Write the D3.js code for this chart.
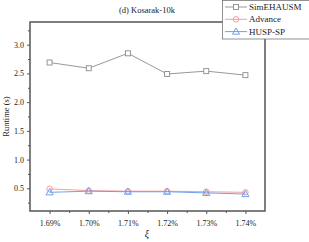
<!DOCTYPE html>
<meta charset="utf-8">
<style>
    body { margin: 0; background: #fff; }
    text { font-family: "Liberation Serif", "Times New Roman", serif; fill: #222; }
    .axis path, .axis line { stroke: #555; }
</style>
<body>
<script src="https://d3js.org/d3.v7.min.js"></script>
<script>
    var xi = [1.69, 1.70, 1.71, 1.72, 1.73, 1.74];
    var xLabels = ["1.69%", "1.70%", "1.71%", "1.72%", "1.73%", "1.74%"];
    var simehausm = [2.69, 2.59, 2.85, 2.49, 2.54, 2.47];
    var advance = [0.49, 0.46, 0.45, 0.45, 0.44, 0.43];
    var huspsp = [0.43, 0.45, 0.44, 0.44, 0.42, 0.40];
    var yTicks = [0.5, 1.0, 1.5, 2.0, 2.5, 3.0];

    var series = [
        { name: "SimEHAUSM", values: simehausm, color: "#8c8c8c", shape: "square" },
        { name: "Advance", values: advance, color: "#f29494", shape: "circle" },
        { name: "HUSP-SP", values: huspsp, color: "#6496ea", shape: "triangle" }
    ];

    var width = 309, height = 242;
    var pLeft = 30, pRight = 265, pTop = 22, pBottom = 211;

    var svg = d3.select("body").append("svg")
        .attr("width", width)
        .attr("height", height);

    var x = d3.scaleLinear().domain([1.685, 1.745]).range([pLeft, pRight]);
    var y = d3.scaleLinear().domain([0.105, 3.395]).range([pBottom, pTop]);

    // frame
    svg.append("rect")
        .attr("x", pLeft).attr("y", pTop)
        .attr("width", pRight - pLeft).attr("height", pBottom - pTop)
        .attr("fill", "none").attr("stroke", "#555").attr("stroke-width", 1.5);

    // minor ticks
    var yMinor = d3.range(0.25, 3.4, 0.5);
    svg.append("g").attr("class", "axis")
        .attr("transform", "translate(" + pLeft + ",0)")
        .call(d3.axisLeft(y).tickValues(yMinor).tickSize(2).tickFormat(""))
        .call(g => g.select(".domain").remove());
    var xMinor = [1.695, 1.705, 1.715, 1.725, 1.735];
    svg.append("g").attr("class", "axis")
        .attr("transform", "translate(0," + pBottom + ")")
        .call(d3.axisBottom(x).tickValues(xMinor).tickSize(2).tickFormat(""))
        .call(g => g.select(".domain").remove());

    // major ticks
    var yAxis = svg.append("g").attr("class", "axis")
        .attr("transform", "translate(" + pLeft + ",0)")
        .call(d3.axisLeft(y).tickValues(yTicks).tickSize(3).tickPadding(3).tickFormat(d3.format(".1f")));
    yAxis.select(".domain").remove();
    yAxis.selectAll("text").style("font-size", "8px");

    var xAxis = svg.append("g").attr("class", "axis")
        .attr("transform", "translate(0," + pBottom + ")")
        .call(d3.axisBottom(x).tickValues(xi).tickSize(3).tickPadding(6).tickFormat((d, i) => xLabels[i]));
    xAxis.select(".domain").remove();
    xAxis.selectAll("text").style("font-size", "8px");

    // title and labels
    svg.append("text").attr("x", 147).attr("y", 13)
        .attr("text-anchor", "middle").style("font-size", "8.5px")
        .text("(d) Kosarak-10k");
    svg.append("text")
        .attr("transform", "translate(9," + ((pTop + pBottom) / 2) + ") rotate(-90)")
        .attr("text-anchor", "middle").style("font-size", "8.5px")
        .text("Runtime (s)");
    svg.append("text").attr("x", 147).attr("y", 237)
        .attr("text-anchor", "middle").style("font-size", "10px").style("font-style", "italic")
        .text("ξ");

    function marker(g, shape, color, cx, cy) {
        if (shape === "square") {
            g.append("rect").attr("x", cx - 2.5).attr("y", cy - 2.5).attr("width", 5).attr("height", 5)
                .attr("fill", "#fff").attr("stroke", color).attr("stroke-width", 0.9);
        } else if (shape === "circle") {
            g.append("circle").attr("cx", cx).attr("cy", cy).attr("r", 2.8)
                .attr("fill", "none").attr("stroke", color).attr("stroke-width", 0.9);
        } else {
            g.append("path")
                .attr("d", d3.symbol().type(d3.symbolTriangle).size(22)())
                .attr("transform", "translate(" + cx + "," + (cy + 0.5) + ")")
                .attr("fill", "none").attr("stroke", color).attr("stroke-width", 0.9);
        }
    }

    var line = d3.line().x((d, i) => x(xi[i])).y(d => y(d));

    series.forEach(function (s) {
        var g = svg.append("g");
        g.append("path").datum(s.values)
            .attr("d", line)
            .attr("fill", "none").attr("stroke", s.color).attr("stroke-width", 0.9);
        s.values.forEach(function (v, i) {
            marker(g, s.shape, s.color, x(xi[i]), y(v));
        });
    });

    // legend
    var lg = svg.append("g");
    lg.append("rect").attr("x", 222.5).attr("y", 0.5).attr("width", 90).attr("height", 38.5)
        .attr("fill", "#fff").attr("stroke", "#777").attr("stroke-width", 0.8);
    series.forEach(function (s, i) {
        var ly = 7 + i * 12.3;
        lg.append("line").attr("x1", 225).attr("x2", 247).attr("y1", ly).attr("y2", ly)
            .attr("stroke", s.color).attr("stroke-width", 0.9);
        marker(lg, s.shape, s.color, 236, ly);
        lg.append("text").attr("x", 249).attr("y", ly + 3)
            .style("font-size", "9px").text(s.name);
    });
</script>
</body>
